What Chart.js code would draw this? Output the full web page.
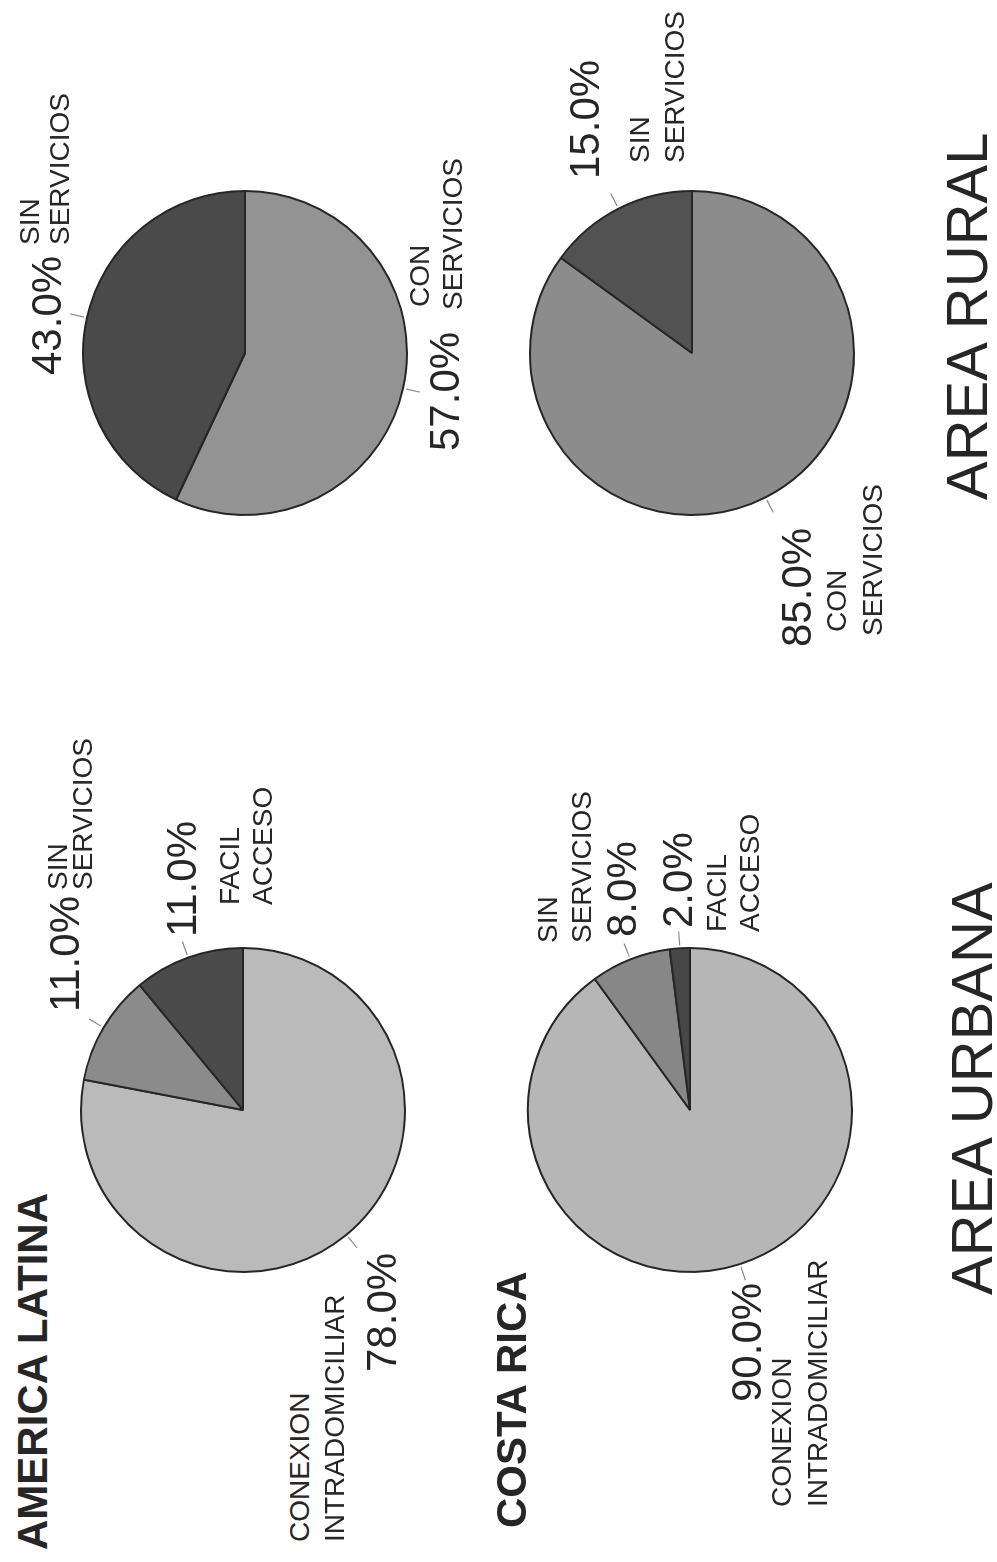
<!DOCTYPE html>
<html>
<head>
<meta charset="utf-8">
<title>Area urbana / Area rural</title>
<script src="https://cdn.jsdelivr.net/npm/chart.js@4.4.1/dist/chart.umd.min.js"></script>
<style>
  html, body { margin: 0; padding: 0; background: #fff; overflow: hidden; }
  #page { position: relative; width: 997px; height: 1562px; overflow: hidden; }
  /* the original sheet is landscape, it is printed turned a quarter left */
  #sheet {
    position: absolute; left: 0; top: 0; width: 1562px; height: 997px;
    transform-origin: 0 0; transform: translateY(1562px) rotate(-90deg);
    font-family: 'Liberation Sans', Arial, Helvetica, sans-serif; color: #262626;
  }
  .pie { position: absolute; }
  .txt { position: absolute; white-space: nowrap; line-height: 1; }
</style>
</head>
<body>
<div id="page"><div id="sheet"></div></div>
<script>
// slices go clockwise from 3 o'clock
const urbanCategories = ['CONEXION INTRADOMICILIAR', 'SIN SERVICIOS', 'FACIL ACCESO'];
const ruralCategories = ['CON SERVICIOS', 'SIN SERVICIOS'];
const latinUrban = [78, 11, 11];
const ricaUrban = [90, 8, 2];
const latinRural = [57, 43];
const ricaRural = [85, 15];

const R = 163;
const PAD = 22;
const sheet = document.getElementById('sheet');

// value label [x, baseline] and one [x, baseline] per word of the category
const panels = [
  {
    cx: 452, cy: 243, labels: urbanCategories, values: latinUrban,
    colors: ['#bababa', '#8b8b8b', '#4b4b4b'],
    place: [
      { value: [190, 397], name: [[20, 310], [20, 345]] },
      { value: [550, 80], name: [[672, 68], [672, 93]] },
      { value: [625, 197], name: [[657, 240], [657, 273]] },
    ],
  },
  {
    cx: 452, cy: 690, labels: urbanCategories, values: ricaUrban,
    colors: ['#b6b6b6', '#878787', '#474747'],
    place: [
      { value: [160, 762], name: [[55, 792], [55, 828]] },
      { value: [625, 637], name: [[619, 558], [619, 592]] },
      { value: [634, 693], name: [[630, 727], [630, 760]] },
    ],
  },
  {
    cx: 1209, cy: 245, labels: ruralCategories, values: latinRural,
    colors: ['#939393', '#4a4a4a'],
    place: [
      { value: [1111, 460], name: [[1255, 430], [1252, 463]] },
      { value: [1187, 62], name: [[1317, 40], [1317, 70]] },
    ],
  },
  {
    cx: 1209, cy: 692, labels: ruralCategories, values: ricaRural,
    colors: ['#8c8c8c', '#525252'],
    place: [
      { value: [915, 812], name: [[930, 847], [926, 883]] },
      { value: [1383, 600], name: [[1399, 650], [1399, 685]] },
    ],
  },
];

const titles = [
  { text: 'AMERICA LATINA', x: 12, y: 48, size: 42, bold: true },
  { text: 'COSTA RICA', x: 34, y: 527, size: 42, bold: true },
  { text: 'AREA URBANA', x: 267, y: 992, size: 58, bold: false },
  { text: 'AREA RURAL', x: 1062, y: 987, size: 58, bold: false },
];

function addText(str, x, base, size, bold) {
  const el = document.createElement('div');
  el.className = 'txt';
  el.textContent = str;
  el.style.fontSize = size + 'px';
  if (bold) el.style.fontWeight = 'bold';
  el.style.left = x + 'px';
  el.style.top = (base - size * 0.847) + 'px';
  sheet.appendChild(el);
}

// short radial tick at the middle of every slice
const leaderTicks = {
  id: 'leaderTicks',
  afterDatasetsDraw(chart) {
    const ctx = chart.ctx;
    chart.getDatasetMeta(0).data.forEach(arc => {
      const p = arc.getProps(['x', 'y', 'startAngle', 'endAngle', 'outerRadius'], true);
      const mid = (p.startAngle + p.endAngle) / 2;
      ctx.save();
      ctx.strokeStyle = '#8a8a8a';
      ctx.lineWidth = 1.2;
      ctx.beginPath();
      ctx.moveTo(p.x + Math.cos(mid) * (p.outerRadius + 3), p.y + Math.sin(mid) * (p.outerRadius + 3));
      ctx.lineTo(p.x + Math.cos(mid) * (p.outerRadius + 17), p.y + Math.sin(mid) * (p.outerRadius + 17));
      ctx.stroke();
      ctx.restore();
    });
  },
};

panels.forEach(p => {
  const size = 2 * (R + PAD);
  const box = document.createElement('div');
  box.className = 'pie';
  box.style.left = (p.cx - R - PAD) + 'px';
  box.style.top = (p.cy - R - PAD) + 'px';
  box.style.width = size + 'px';
  box.style.height = size + 'px';
  const canvas = document.createElement('canvas');
  canvas.width = size;
  canvas.height = size;
  canvas.style.width = size + 'px';
  canvas.style.height = size + 'px';
  box.appendChild(canvas);
  sheet.appendChild(box);

  new Chart(canvas, {
    type: 'pie',
    data: {
      labels: p.labels,
      datasets: [{
        data: p.values,
        backgroundColor: p.colors,
        borderColor: '#262626',
        borderWidth: 2,
      }],
    },
    options: {
      responsive: false,
      animation: false,
      rotation: 90,
      layout: { padding: PAD },
      plugins: {
        legend: { display: false },
        tooltip: { enabled: false },
      },
    },
    plugins: [leaderTicks],
  });

  p.values.forEach((v, i) => {
    const pl = p.place[i];
    addText(v.toFixed(1) + '%', pl.value[0], pl.value[1], 42, false);
    p.labels[i].split(' ').forEach((word, k) => {
      addText(word, pl.name[k][0], pl.name[k][1], 28, false);
    });
  });
});

titles.forEach(t => addText(t.text, t.x, t.y, t.size, t.bold));
</script>
</body>
</html>
